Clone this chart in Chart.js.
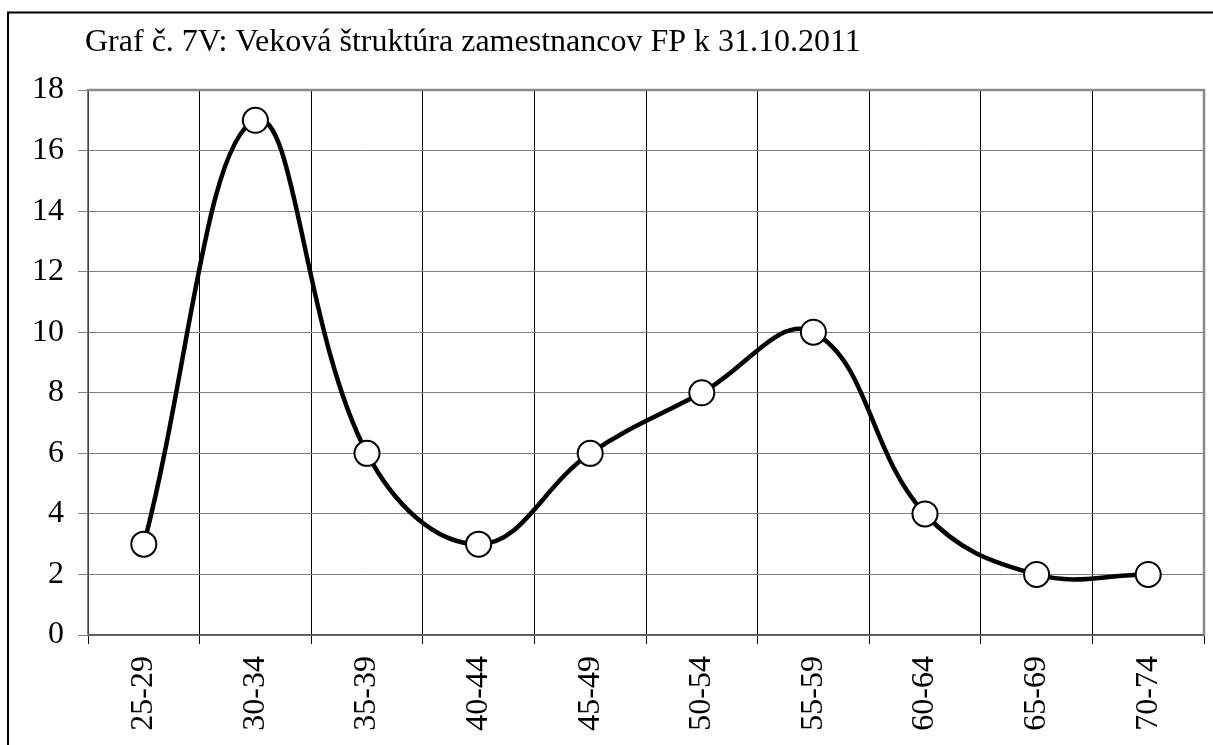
<!DOCTYPE html>
<html>
<head>
<meta charset="utf-8">
<script src="https://cdn.jsdelivr.net/npm/chart.js@4.4.1/dist/chart.umd.min.js"></script>
<style>
  html, body { margin: 0; padding: 0; background: #fff; overflow: hidden; }
  #chart { display: block; }
</style>
</head>
<body>
<canvas id="chart" width="1213" height="745"></canvas>
<script>
const chartTitle = "Graf č. 7V: Veková štruktúra zamestnancov FP k 31.10.2011";
const ageGroups = ["25-29", "30-34", "35-39", "40-44", "45-49", "50-54", "55-59", "60-64", "65-69", "70-74"];
const employees = [3, 17, 6, 3, 6, 8, 10, 4, 2, 2];
const yMin = 0;
const yMax = 18;
const yStep = 2;

const serif = "'Liberation Serif', 'Times New Roman', serif";

// frame around the figure, title, grey top/right border of the plot
const framePlugin = {
  id: "frame",
  beforeDraw(chart) {
    const ctx = chart.ctx;
    ctx.save();
    ctx.fillStyle = "#fff";
    ctx.fillRect(0, 0, chart.width, chart.height);
    ctx.strokeStyle = "#000";
    ctx.lineWidth = 2;
    ctx.beginPath();
    ctx.moveTo(8, chart.height + 2);
    ctx.lineTo(8, 12.5);
    ctx.lineTo(chart.width + 2, 12.5);
    ctx.stroke();
    ctx.fillStyle = "#000";
    ctx.font = "32px " + serif;
    ctx.textBaseline = "alphabetic";
    ctx.fillText(chartTitle, 85, 51);
    ctx.restore();
  },
  beforeDatasetsDraw(chart) {
    const { ctx, chartArea } = chart;
    ctx.save();
    ctx.strokeStyle = "#8a8a8a";
    ctx.lineWidth = 2.5;
    ctx.beginPath();
    ctx.moveTo(chartArea.left, chartArea.top);
    ctx.lineTo(chartArea.right, chartArea.top);
    ctx.lineTo(chartArea.right, chartArea.bottom);
    ctx.stroke();
    ctx.restore();
  }
};

new Chart(document.getElementById("chart"), {
  type: "line",
  data: {
    labels: ageGroups,
    datasets: [{
      data: employees,
      borderColor: "#000",
      borderWidth: 4.5,
      tension: 0.4,
      pointRadius: 12.5,
      pointBorderWidth: 2,
      pointBackgroundColor: "#fff",
      pointBorderColor: "#000",
      fill: false,
      clip: false
    }]
  },
  options: {
    responsive: false,
    animation: false,
    devicePixelRatio: 1,
    layout: { autoPadding: false, padding: { left: 0, top: 90, right: 9, bottom: 0 } },
    plugins: {
      legend: { display: false },
      tooltip: { enabled: false }
    },
    scales: {
      x: {
        offset: true,
        afterFit(scale) {
          scale.height = 110;
          scale.paddingLeft = 0;
          scale.paddingRight = 0;
        },
        grid: {
          offset: true,
          color: "#000",
          lineWidth: 1,
          tickLength: 9,
          drawTicks: true
        },
        border: { display: true, color: "#555", width: 1.5 },
        ticks: {
          color: "#000",
          font: { family: serif, size: 32 },
          minRotation: 90,
          maxRotation: 90,
          padding: 12,
          autoSkip: false
        }
      },
      y: {
        min: yMin,
        max: yMax,
        afterFit(scale) {
          scale.width = 88;
          scale.paddingTop = 0;
          scale.paddingBottom = 0;
        },
        grid: {
          color: "#808080",
          lineWidth: 1,
          tickLength: 10
        },
        border: { display: true, color: "#808080", width: 1.5 },
        ticks: {
          stepSize: yStep,
          color: "#000",
          font: { family: serif, size: 32 },
          padding: 14
        }
      }
    }
  },
  plugins: [framePlugin]
});
</script>
</body>
</html>
